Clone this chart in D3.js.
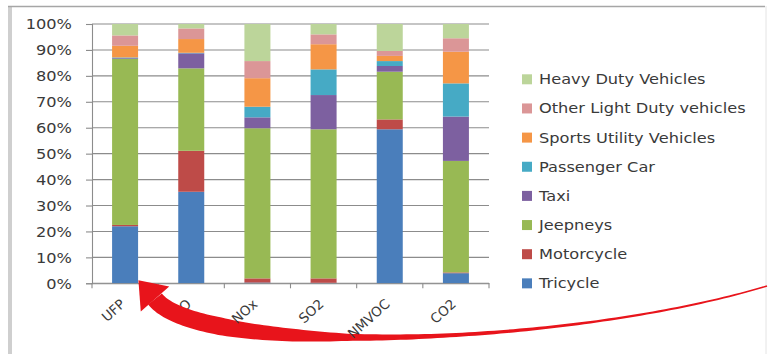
<!DOCTYPE html>
<html>
<head>
<meta charset="utf-8">
<script src="https://cdn.jsdelivr.net/npm/d3@7"></script>
<style>
  html, body { margin: 0; padding: 0; background: #fff; }
  svg { display: block; }
  text { font-family: "DejaVu Sans", Verdana, sans-serif; fill: #3a3a3a; }
</style>
</head>
<body>
<svg id="chart" width="768" height="354"></svg>
<script>
// Share of emissions by vehicle type, per pollutant (percent)
const pollutants = ["UFP", "CO", "NOx", "SO2", "NMVOC", "CO2"];
const vehicleTypes = ["Tricycle", "Motorcycle", "Jeepneys", "Taxi", "Passenger Car",
  "Sports Utility Vehicles", "Other Light Duty vehicles", "Heavy Duty Vehicles"];

const tricycle     = [22.0, 35.3,  0.3,  0.2, 59.4,  3.9];
const motorcycle   = [ 0.5, 15.8,  1.6,  1.7,  3.8,  0.3];
const jeepneys     = [64.0, 31.8, 57.9, 57.5, 18.4, 43.0];
const taxi         = [ 0.3,  5.8,  4.2, 13.2,  2.2, 17.1];
const passengerCar = [ 0.3,  0.2,  4.1,  9.9,  1.9, 12.8];
const suv          = [ 4.5,  5.3, 11.0,  9.7,  2.0, 12.2];
const otherLightDuty = [4.0, 4.1,  6.6,  3.8,  1.9,  5.2];
const heavyDuty    = [ 4.4,  1.7, 14.3,  4.0, 10.4,  5.5];

const yTicks = [0, 10, 20, 30, 40, 50, 60, 70, 80, 90, 100];

const colors = ["#4a7ebb", "#be4b48", "#98b954", "#7d60a0", "#46aac5",
  "#f59646", "#db9697", "#bcd59a"];

const seriesValues = [tricycle, motorcycle, jeepneys, taxi, passengerCar,
  suv, otherLightDuty, heavyDuty];

// rows for d3.stack
const rows = pollutants.map((p, i) => {
  const r = { pollutant: p };
  vehicleTypes.forEach((v, k) => { r[v] = seriesValues[k][i]; });
  return r;
});

const svg = d3.select("#chart");
const stretch = 1.2;   // horizontally widened lettering

// frame
svg.append("rect").attr("x", 8).attr("y", 6).attr("width", 4).attr("height", 350).attr("fill", "#cfcfcf");
svg.append("line").attr("x1", 8).attr("x2", 765).attr("y1", 6.5).attr("y2", 6.5)
  .attr("stroke", "#a6a6a6").attr("stroke-width", 1.6);
svg.append("line").attr("x1", 766).attr("x2", 766).attr("y1", 6).attr("y2", 354)
  .attr("stroke", "#e4e4e4").attr("stroke-width", 1);

const x = d3.scaleBand().domain(pollutants).range([92, 489]).paddingInner(0.607).paddingOuter(0.3035);
const y = d3.scaleLinear().domain([0, 100]).range([283.3, 24]);

// gridlines
svg.append("g").selectAll("line").data(yTicks).join("line")
  .attr("x1", 92).attr("x2", 489)
  .attr("y1", d => y(d)).attr("y2", d => y(d))
  .attr("stroke", "#8c8c8c").attr("stroke-width", 1.1);

// stacked bars
const stack = d3.stack().keys(vehicleTypes)(rows);
svg.append("g").selectAll("g").data(stack).join("g")
  .attr("fill", (d, i) => colors[i])
  .selectAll("rect").data(d => d).join("rect")
  .attr("x", d => x(d.data.pollutant))
  .attr("width", x.bandwidth())
  .attr("y", d => y(d[1]))
  .attr("height", d => y(d[0]) - y(d[1]));

// y axis
const yAxis = svg.append("g").attr("transform", "translate(92,0)")
  .call(d3.axisLeft(y).tickValues(yTicks).tickFormat(d => d + "%").tickSize(6).tickPadding(0));
yAxis.select(".domain").attr("stroke", "#8c8c8c").attr("stroke-width", 1.1);
yAxis.selectAll(".tick line").attr("stroke", "#8c8c8c").attr("stroke-width", 1.1);
yAxis.selectAll(".tick text")
  .attr("x", null).attr("dy", null)
  .attr("text-anchor", "end")
  .attr("font-size", 13.5)
  .attr("transform", `translate(-20,4.8) scale(${stretch},1)`)
  .style("fill", "#3a3a3a");

// x axis
const xAxis = svg.append("g").attr("transform", `translate(0,${y(0)})`)
  .call(d3.axisBottom(x).tickSize(0).tickFormat(""));
xAxis.select(".domain").attr("stroke", "#8c8c8c").attr("stroke-width", 1.1);
const bounds = pollutants.map(p => x(p) - x.step() * x.paddingInner() / 2).concat([489]);
xAxis.append("g").selectAll("line").data(bounds).join("line")
  .attr("x1", d => d).attr("x2", d => d).attr("y1", 0).attr("y2", 5)
  .attr("stroke", "#8c8c8c").attr("stroke-width", 1.1);
const xLabels = xAxis.append("g").selectAll("text").data(pollutants).join("text")
  .attr("text-anchor", "end")
  .attr("font-size", 13.5)
  .attr("transform", d => `translate(${x(d) + x.bandwidth() / 2 + 1},${22}) rotate(-42)`)
  .text(d => d);

// legend
const legend = svg.append("g");
const legendOrder = vehicleTypes.map((v, i) => i).reverse();
legendOrder.forEach((k, j) => {
  const cy = 79.3 + j * 29.15;
  legend.append("rect").attr("x", 522).attr("y", cy - 5).attr("width", 10).attr("height", 10).attr("fill", colors[k]);
  legend.append("text").attr("font-size", 13.5)
    .attr("transform", `translate(539,${cy + 5}) scale(${stretch},1)`)
    .text(vehicleTypes[k]);
});

// red pointer arrow sweeping from the right margin to the UFP bar
const arrow = svg.append("g");
(function drawArrow() {
  const P = [[767, 286], [560, 348], [200, 356], [155, 299]];
  const bez = t => {
    const u = 1 - t;
    const a = u * u * u, b = 3 * u * u * t, c = 3 * u * t * t, d = t * t * t;
    return [a * P[0][0] + b * P[1][0] + c * P[2][0] + d * P[3][0],
            a * P[0][1] + b * P[1][1] + c * P[2][1] + d * P[3][1]];
  };
  const halfWidth = d3.scaleLinear()
    .domain([220, 290, 350, 450, 600, 767])
    .range([8.8, 6.5, 3.5, 2, 1.2, 0.8]).clamp(true);
  const n = 120, left = [], right = [];
  for (let i = 0; i <= n; i++) {
    const t = i / n;
    const p = bez(t);
    const q = bez(Math.min(1, t + 0.001)), o = bez(Math.max(0, t - 0.001));
    let dx = q[0] - o[0], dy = q[1] - o[1];
    const len = Math.hypot(dx, dy); dx /= len; dy /= len;
    const w = halfWidth(p[0]);
    left.push([p[0] - dy * w, p[1] + dx * w]);
    right.push([p[0] + dy * w, p[1] - dx * w]);
  }
  const body = left.concat(right.reverse());
  arrow.append("path").attr("d", d3.line()(body) + "Z").attr("fill", "#e8141b");
  const end = bez(1), pre = bez(0.985);
  let dx = end[0] - pre[0], dy = end[1] - pre[1];
  const len = Math.hypot(dx, dy); dx /= len; dy /= len;
  const tip = [end[0] + dx * 25, end[1] + dy * 25];
  const hw = 19;
  const head = [[end[0] - dy * hw, end[1] + dx * hw], tip, [end[0] + dy * hw, end[1] - dx * hw]];
  arrow.append("path").attr("d", d3.line()(head) + "Z").attr("fill", "#e8141b");
})();

// labels clear of the arrowhead sit above the arrow
const labelsOnTop = svg.append("g").attr("transform", `translate(0,${y(0)})`);
xLabels.filter(d => d !== "CO").each(function () { labelsOnTop.node().appendChild(this); });
</script>
</body>
</html>
